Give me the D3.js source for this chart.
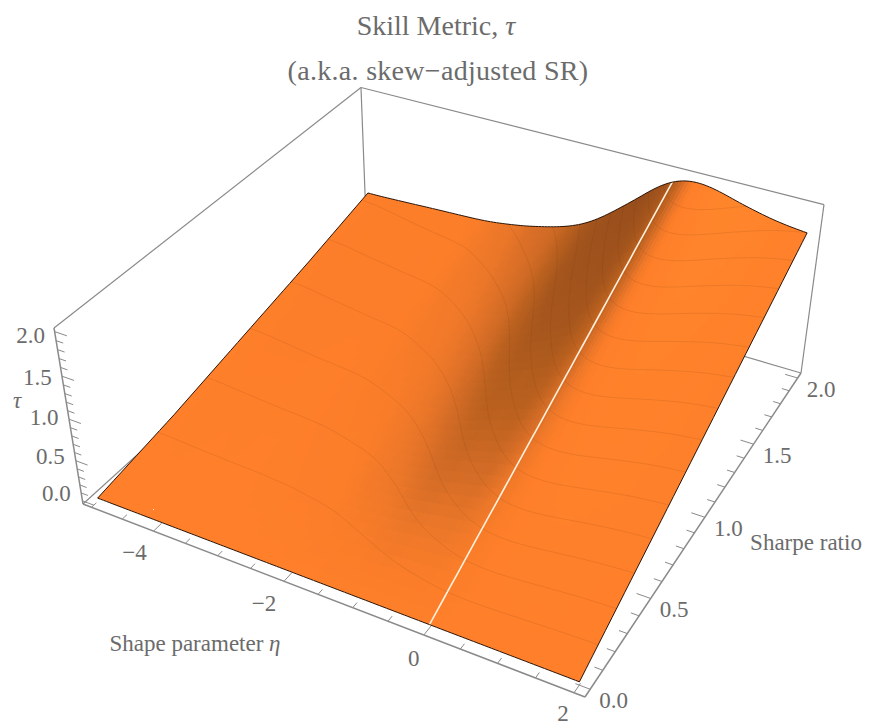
<!DOCTYPE html>
<html>
<head>
<meta charset="utf-8">
<script src="https://cdnjs.cloudflare.com/ajax/libs/d3/7.8.5/d3.min.js"></script>
<style>
  html, body { margin: 0; background: #fff; }
  text { font-family: "Liberation Serif", serif; fill: #6b6b6b; }
</style>
</head>
<body>
<div class="chart"></div>
<script>
// tau, one row per Sharpe ratio, columns follow etaValues
const etaValues = d3.range(29).map(i => -5 + i * 0.25);
const sharpeValues = [0, 0.5, 1, 1.5, 2];
const tauAtSharpe0 = new Array(29).fill(0);
const tauAtSharpe05 = [.159,.160,.162,.164,.165,.167,.168,.169,.172,.175,.182,.188,.198,.218,.244,.276,.319,.365,.406,.45,.483,.498,.496,.485,.47,.458,.446,.439,.434];
const tauAtSharpe10 = [.355,.356,.360,.364,.368,.372,.375,.378,.382,.391,.405,.420,.442,.473,.514,.571,.644,.73,.813,.90,.965,.995,.993,.97,.94,.915,.893,.878,.868];
const tauAtSharpe15 = [.550,.553,.559,.565,.570,.576,.582,.587,.593,.607,.628,.652,.685,.728,.783,.861,.970,1.095,1.219,1.35,1.448,1.493,1.489,1.455,1.41,1.373,1.339,1.316,1.301];
const tauAtSharpe20 = [.767,.770,.778,.786,.795,.803,.810,.817,.826,.845,.875,.908,.955,1.005,1.07,1.165,1.30,1.46,1.625,1.80,1.93,1.99,1.985,1.94,1.88,1.83,1.785,1.755,1.735];

const etaMajor = [-4, -2, 0, 2];
const sharpeMajor = [0, 0.5, 1, 1.5, 2];
const tauMajor = [0, 0.5, 1, 1.5, 2];
const contourLevels = d3.range(1, 16).map(k => k * 0.124);

const width = 878;
const height = 725;

const svg = d3.select('.chart')
  .append('svg')
  .attr('width', width)
  .attr('height', height);

// the plot box runs 2% past the data on every axis
const uScale = d3.scaleLinear().domain([-5.14, 2.14]).range([0, 1]);
const vScale = d3.scaleLinear().domain([-0.04, 2.04]).range([0, 1]);
const wScale = d3.scaleLinear().domain([-0.04, 2.04]).range([0, 1]);

// perspective camera fitted to the corners of the box
const projectBox = (u, v, w) => {
  const d = 1 - 0.1195 * u + 0.2163 * v - 0.0704 * w;
  return [
    (83 + 432.09 * u + 363.45 * v - 32.8 * w) / d,
    (504 + 109.7 * u - 204.6 * v - 199.1 * w) / d,
  ];
};
const project = (eta, sr, tau) => projectBox(uScale(eta), vScale(sr), wScale(tau));

// tau(eta, sharpe) from the table
const rowCurves = [tauAtSharpe0, tauAtSharpe05, tauAtSharpe10, tauAtSharpe15, tauAtSharpe20]
  .map(row => d3.interpolateBasis(row));
const etaT = d3.scaleLinear().domain(d3.extent(etaValues)).range([0, 1]);
const tauAt = (eta, sr) => {
  const t = etaT(eta);
  return d3.scaleLinear().domain(sharpeValues).range(rowCurves.map(c => c(t)))(sr);
};

const shade = d3.scaleLinear()
  .domain([-0.3, 0, 0.05, 0.12, 0.2, 0.3, 0.45, 0.65, 0.75])
  .range(['#ff872c', '#ff7f2a', '#fa7d29', '#ec7729', '#d46c26', '#bb611f', '#a6561d', '#9a4f1c', '#8e4a1a'])
  .clamp(true);

const line = d3.line();
const axisColor = '#8a8a8a';

const edge = (a, b, w) => svg.append('path')
  .attr('d', line([a, b]))
  .attr('fill', 'none')
  .attr('stroke', axisColor)
  .attr('stroke-width', w || 1.2);

// box edges behind the surface
edge(projectBox(0, 0, 1), projectBox(0, 1, 1));
edge(projectBox(0, 1, 1), projectBox(1, 1, 1));
edge(projectBox(1, 1, 1), projectBox(1, 1, 0));
edge(projectBox(0, 1, 1), projectBox(0, 1, 0));
edge(projectBox(0, 1, 0), projectBox(1, 1, 0));
edge(projectBox(0, 0, 0), projectBox(0, 1, 0));

// surface facets, back to front
const etaStep = 0.05;
const srStep = 0.05;
const facets = [];
d3.range(0, 40).reverse().forEach(j => {
  d3.range(0, 140).forEach(i => {
    const e0 = -5 + i * etaStep;
    const e1 = e0 + etaStep;
    const s0 = j * srStep;
    const s1 = s0 + srStep;
    const t00 = tauAt(e0, s0);
    const t10 = tauAt(e1, s0);
    const t01 = tauAt(e0, s1);
    const t11 = tauAt(e1, s1);
    facets.push({
      corners: [project(e0, s0, t00), project(e1, s0, t10), project(e1, s1, t11), project(e0, s1, t01)],
      slope: ((t10 - t00) + (t11 - t01)) / (2 * etaStep),
    });
  });
});

svg.append('g')
  .attr('shape-rendering', 'crispEdges')
  .selectAll('path')
  .data(facets)
  .enter()
  .append('path')
  .attr('d', d => line(d.corners) + 'Z')
  .attr('fill', d => shade(d.slope));

// level lines of tau, rings are cut where they run along the grid border
const nx = 281;
const ny = 81;
const gridEta = d3.scaleLinear().domain([0, nx - 1]).range([-5, 2]);
const gridSr = d3.scaleLinear().domain([0, ny - 1]).range([0, 2]);
const grid = new Float64Array(nx * ny);
for (let j = 0; j < ny; j++) {
  for (let i = 0; i < nx; i++) grid[j * nx + i] = tauAt(gridEta(i), gridSr(j));
}
const rings = d3.contours().size([nx, ny]).thresholds(contourLevels)(Array.from(grid));
const levelLines = [];
rings.forEach(c => c.coordinates.forEach(poly => poly.forEach(ring => {
  let run = [];
  ring.forEach(([x, y]) => {
    const inside = x >= 0.5 && x <= nx - 0.5 && y >= 0.5 && y <= ny - 0.5;
    if (inside) {
      const eta = gridEta(x - 0.5);
      const sr = gridSr(y - 0.5);
      run.push(project(eta, sr, c.value));
    } else if (run.length) {
      levelLines.push(run);
      run = [];
    }
  });
  if (run.length) levelLines.push(run);
})));

svg.append('g')
  .selectAll('path')
  .data(levelLines)
  .enter()
  .append('path')
  .attr('d', line)
  .attr('fill', 'none')
  .attr('stroke', '#6b3512')
  .attr('stroke-opacity', 0.13)
  .attr('stroke-width', 1);

// white line along eta = 0
const srFine = d3.range(0, 2.001, 0.05);
svg.append('path')
  .attr('d', line(srFine.map(s => project(0, s, tauAt(0, s)))))
  .attr('fill', 'none')
  .attr('stroke', '#fff1de')
  .attr('stroke-width', 1.6);

// black outline of the surface
const etaFine = d3.range(-5, 2.001, 0.05);
const outline = [
  ...etaFine.map(e => project(e, 0, tauAt(e, 0))),
  ...srFine.map(s => project(2, s, tauAt(2, s))),
  ...etaFine.slice().reverse().map(e => project(e, 2, tauAt(e, 2))),
  ...srFine.slice().reverse().map(s => project(-5, s, tauAt(-5, s))),
];
svg.append('path')
  .attr('d', line(outline) + 'Z')
  .attr('fill', 'none')
  .attr('stroke', '#2b1508')
  .attr('stroke-width', 1);

// axes in front
edge(projectBox(0, 0, 0), projectBox(1, 0, 0), 1.5);
edge(projectBox(1, 0, 0), projectBox(1, 1, 0), 1.5);
edge(projectBox(0, 0, 0), projectBox(0, 0, 1), 1.5);

const isMajor = (list, x) => list.some(m => Math.abs(m - x) < 1e-6);

d3.range(-5, 2.001, 0.5).forEach(e => {
  const dv = isMajor(etaMajor, e) ? 0.024 : 0.014;
  const u = uScale(e);
  edge(projectBox(u, 0, 0), projectBox(u, dv, 0), 1);
});
d3.range(0, 2.001, 0.1).forEach(s => {
  const du = isMajor(sharpeMajor, s) ? 0.026 : 0.015;
  const v = vScale(s);
  edge(projectBox(1, v, 0), projectBox(1 - du, v, 0), 1);
});
d3.range(0, 2.001, 0.1).forEach(t => {
  const du = isMajor(tauMajor, t) ? 0.026 : 0.015;
  const w = wScale(t);
  edge(projectBox(0, 0, w), projectBox(du, 0, w), 1);
});

const fmt = d3.format('.1f');
const fontSize = 23;

const label = (x, y, txt, size) => svg.append('text')
  .attr('x', x)
  .attr('y', y)
  .attr('text-anchor', 'middle')
  .attr('dominant-baseline', 'central')
  .style('font-size', (size || fontSize) + 'px')
  .text(txt);

const etaDx = d3.scaleLinear().domain(etaMajor).range([-19, -20, -10, -11]);
const etaDy = d3.scaleLinear().domain(etaMajor).range([21, 22, 23, 21]);
etaMajor.forEach(e => {
  const p = projectBox(uScale(e), 0, 0);
  label(p[0] + etaDx(e), p[1] + etaDy(e), e < 0 ? '\u2212' + Math.abs(e) : String(e));
});
sharpeMajor.forEach(s => {
  const p = projectBox(1, vScale(s), 0);
  label(p[0] + 23.5, p[1] + 11, fmt(s));
});
const tauDx = d3.scaleLinear().domain([0, 2]).range([-26, -24]);
const tauDy = d3.scaleLinear().domain([0, 2]).range([-7, 4]);
tauMajor.forEach(t => {
  const p = projectBox(0, 0, wScale(t));
  label(p[0] + tauDx(t), p[1] + tauDy(t), fmt(t));
});

// axis labels and title
const tauLabel = label(17, 400, '');
tauLabel.append('tspan').style('font-style', 'italic').text('\u03c4');

label(806, 542, 'Sharpe ratio');

const etaLabel = label(195, 643, 'Shape parameter ');
etaLabel.append('tspan').style('font-style', 'italic').text('\u03b7');

const title = label(436, 25, 'Skill Metric, ', 28);
title.append('tspan').style('font-style', 'italic').text('\u03c4');
label(438, 70, '(a.k.a. skew\u2212adjusted SR)', 28).style('letter-spacing', '0.3px');
</script>
</body>
</html>
